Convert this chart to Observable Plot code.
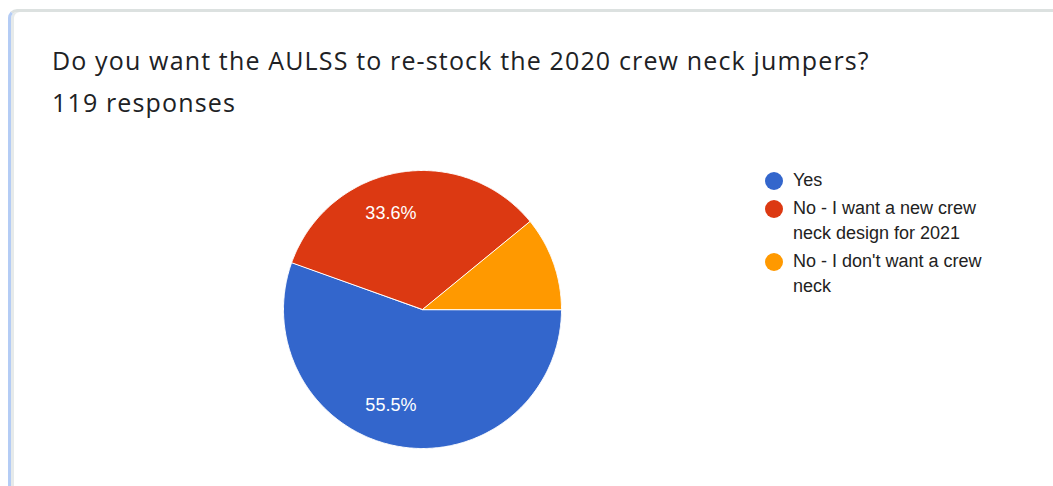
<!DOCTYPE html>
<html><head><meta charset="utf-8">
<script src="https://cdn.jsdelivr.net/npm/d3@7"></script>
<script src="https://cdn.jsdelivr.net/npm/@observablehq/plot@0.6"></script>
<style>
html,body{margin:0;padding:0;background:#fff;width:1053px;height:486px;overflow:hidden;position:relative;}
#card{position:absolute;left:8px;top:9px;width:1080px;height:520px;border-top:3px solid #dce1e0;border-left:3px solid #b4ccf5;border-top-left-radius:9px;box-sizing:border-box;box-shadow:inset 3px 0 0 #e6eaea;}
#title{position:absolute;left:52px;top:39px;font-family:"Open Sans",sans-serif;font-size:25px;letter-spacing:1.15px;line-height:42px;color:#202124;white-space:nowrap;}
#chart{position:absolute;left:0;top:140px;}
#legend{position:absolute;left:765px;top:168px;width:234px;font-family:"Liberation Sans",Arial,sans-serif;font-size:18px;line-height:25px;color:#222;}
.item{position:relative;padding-left:28px;margin-bottom:3px;}
.sw{position:absolute;left:0;top:4px;width:18px;height:18px;border-radius:50%;}
</style></head>
<body>
<div id="card"></div>
<div id="title">Do you want the AULSS to re-stock the 2020 crew neck jumpers?<br>119 responses</div>
<div id="chart"></div>
<div id="legend"></div>
<script>
const categories = ["Yes", "No - I want a new crew neck design for 2021", "No - I don't want a crew neck"];
const counts = [66, 40, 13];
const colors = ["#3366cc", "#dc3912", "#ff9900"];

const total = d3.sum(counts);
const arcs = d3.pie().sort(null).startAngle(Math.PI / 2).endAngle(Math.PI / 2 + 2 * Math.PI)(counts);

const slicePts = [];
arcs.forEach((a, i) => {
  const cat = categories[i];
  slicePts.push({cat, x: 0, y: 0});
  const n = Math.max(2, Math.ceil((a.endAngle - a.startAngle) / (Math.PI / 360)));
  for (let k = 0; k <= n; k++) {
    const t = a.startAngle + (a.endAngle - a.startAngle) * k / n;
    slicePts.push({cat, x: Math.sin(t), y: Math.cos(t)});
  }
});

const labels = arcs.map((a, i) => {
  const m = (a.startAngle + a.endAngle) / 2;
  return {cat: categories[i], share: counts[i] / total, x: 0.7 * Math.sin(m), y: 0.7 * Math.cos(m),
          text: (100 * counts[i] / total).toFixed(1) + "%"};
}).filter(d => d.share > 0.15);

const chart = Plot.plot({
  width: 1053,
  height: 346,
  marginLeft: 283,
  marginRight: 492,
  marginTop: 30,
  marginBottom: 38,
  x: {domain: [-1, 1], axis: null},
  y: {domain: [-1, 1], axis: null},
  color: {domain: categories, range: colors},
  style: {background: "transparent", overflow: "visible"},
  marks: [
    Plot.line(slicePts, {x: "x", y: "y", z: "cat", fill: "cat", stroke: "white", strokeWidth: 1, curve: "linear-closed", strokeLinejoin: "round"}),
    Plot.text(labels, {x: "x", y: "y", text: "text", fill: "white", fontSize: 18, fontFamily: "Liberation Sans, Arial, sans-serif", dx: -15})
  ]
});
document.getElementById("chart").appendChild(chart);

const color = chart.scale("color");
const legend = document.getElementById("legend");
categories.forEach(c => {
  const item = document.createElement("div");
  item.className = "item";
  const sw = document.createElement("span");
  sw.className = "sw";
  sw.style.background = color.apply(c);
  item.appendChild(sw);
  item.appendChild(document.createTextNode(c));
  legend.appendChild(item);
});
</script>
</body></html>
